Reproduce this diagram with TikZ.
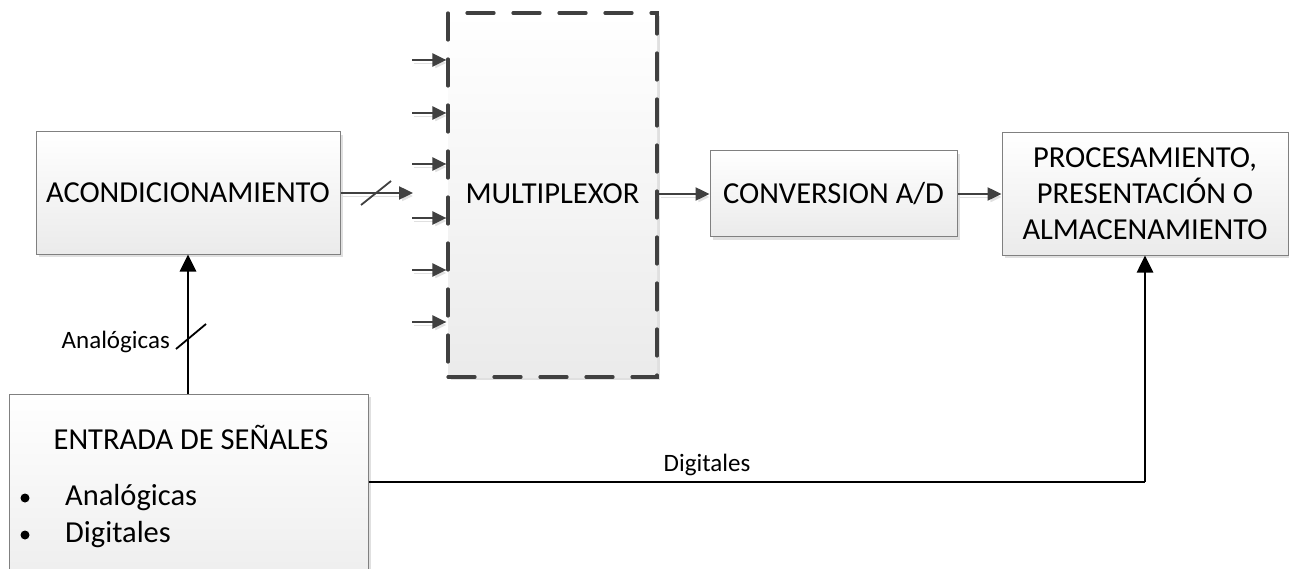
\documentclass[tikz,border=0pt]{standalone}
\usepackage{fontspec}
\setmainfont{Carlito}
\usetikzlibrary{arrows.meta,shadows}
\definecolor{dk}{HTML}{404040}
\definecolor{bord}{HTML}{808080}
\tikzset{
  bigtxt/.style={font=\fontsize{30.5}{36}\selectfont},
  blk/.style={draw=bord, line width=1pt, top color=white, bottom color=black!8,
    drop shadow={shadow xshift=3pt, shadow yshift=-3pt, fill=black!12, opacity=1},
    align=center, inner sep=0pt, bigtxt},
  muxbox/.style={draw=dk, line width=3.2pt, dash pattern=on 27pt off 19pt, line cap=round,
    top color=white, bottom color=black!8,
    drop shadow={shadow xshift=3pt, shadow yshift=-3pt, fill=black!12, opacity=1},
    inner sep=0pt},
  garrow/.style={draw=dk, line width=2.4pt, -{Triangle[length=14pt,width=13pt]},
    preaction={draw=black!12, transform canvas={shift={(2pt,-3pt)}}}},
  barrow/.style={draw=black, line width=2.7pt, -{Triangle[length=17pt,width=16pt]}},
  bline/.style={draw=black, line width=2.7pt},
  lbl/.style={font=\fontsize{25}{28}\selectfont, inner sep=0pt},
  slash/.style={line width=1.8pt}
}
\begin{document}
\begin{tikzpicture}[x=1pt,y=-1pt]
\useasboundingbox (0,0) rectangle (1289,569);
\clip (0,0) rectangle (1289,569);
\fill[white] (0,0) rectangle (1289,569);

% blocks
\node[blk, minimum width=304pt, minimum height=122pt] (acond) at (188,193) {ACONDICIONAMIENTO};
\node[muxbox, minimum width=209pt, minimum height=364pt] (mux) at (552.5,195) {};
\node[bigtxt, inner sep=0pt] (muxt) at (552.5,194) {MULTIPLEXOR};
\node[blk, minimum width=247pt, minimum height=86pt] (conv) at (833.5,194) {CONVERSION A/D};
\node[blk, minimum width=286pt, minimum height=122pt] (proc) at (1145,194)
  {PROCESAMIENTO,\\PRESENTACIÓN O\\ALMACENAMIENTO};
\node[blk, minimum width=359pt, minimum height=220pt] (ent) at (188.5,504) {};
\node[bigtxt, inner sep=0pt] (entt) at (191,437) {ENTRADA DE SEÑALES};
\node[bigtxt, inner sep=0pt, anchor=west] (b1) at (65,498) {Analógicas};
\node[bigtxt, inner sep=0pt, anchor=west] (b2) at (65,535) {Digitales};
\fill (25,498) circle (4.5pt);
\fill (25,535) circle (4.5pt);

% acond -> mux
\coordinate (mxin) at (413,193);
\draw[garrow] (acond.east) -- (mxin);
\draw[dk, slash] (361,205) -- (391,181);

% six inputs
\foreach \i/\yy in {1/60,2/113,3/164,4/218,5/270,6/322}{
  \coordinate (in\i) at (412,\yy);
  \draw[garrow] (in\i) -- (in\i -| mux.west);
}

% mux -> conv -> proc
\draw[garrow] (mux.east |- 0,194) -- (conv.west |- 0,194);
\draw[garrow] (conv.east) -- (proc.west |- conv.east);

% entrada -> acond
\draw[barrow] (ent.north -| acond.south) -- (acond.south);
\draw[black, slash] (176,349) -- (206,324);
\node[lbl, anchor=east] (lana) at (170,342) {Analógicas};

% entrada -> proc
\coordinate (corner) at (proc.south |- 0,482);
\draw[bline] (ent.east |- 0,482) -- (corner);
\draw[barrow] (corner) -- (proc.south);
\node[lbl] (ldig) at (707,465) {Digitales};
\end{tikzpicture}
\end{document}
